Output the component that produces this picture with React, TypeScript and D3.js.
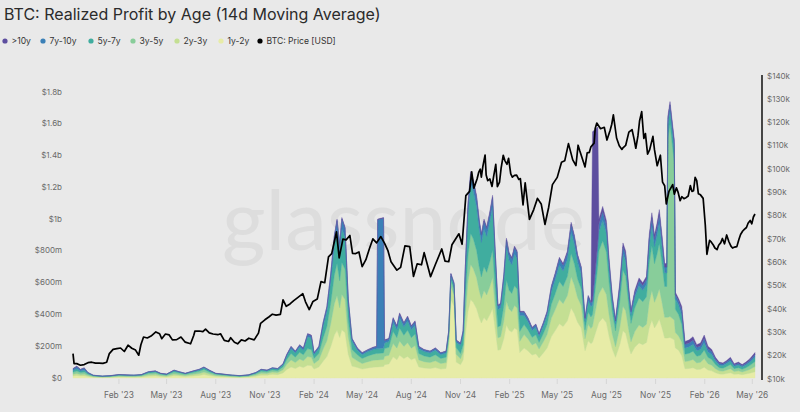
import React from 'react';
import * as d3 from 'd3';

// ---------- DATA ----------
const profitDates = [
  '2022-11-07','2022-11-14','2022-11-21','2022-11-28','2022-12-05','2022-12-15','2023-01-01','2023-01-15','2023-02-01','2023-02-15',
  '2023-03-01','2023-03-15','2023-03-28','2023-04-10','2023-04-20','2023-05-01','2023-05-15','2023-05-25','2023-06-05','2023-06-20',
  '2023-07-01','2023-07-10','2023-07-20','2023-08-01','2023-08-15','2023-09-01','2023-09-15','2023-10-01','2023-10-15','2023-10-25',
  '2023-11-05','2023-11-15','2023-11-25','2023-12-05','2023-12-12','2023-12-20','2023-12-28','2024-01-05','2024-01-12','2024-01-20',
  '2024-01-27','2024-02-01','2024-02-10','2024-02-18','2024-02-25','2024-03-03','2024-03-10','2024-03-15','2024-03-20','2024-03-24',
  '2024-03-30','2024-04-05','2024-04-12','2024-04-22','2024-05-01','2024-05-12','2024-05-22','2024-05-28','2024-05-30','2024-06-10',
  '2024-06-12','2024-06-20','2024-06-28','2024-07-05','2024-07-10','2024-07-18','2024-07-25','2024-08-01','2024-08-08','2024-08-15',
  '2024-08-25','2024-09-05','2024-09-15','2024-09-25','2024-10-05','2024-10-10','2024-10-14','2024-10-20','2024-10-24','2024-11-01',
  '2024-11-06','2024-11-10','2024-11-15','2024-11-20','2024-11-25','2024-12-01','2024-12-06','2024-12-10','2024-12-15','2024-12-20',
  '2024-12-26','2024-12-31','2025-01-05','2025-01-10','2025-01-15','2025-01-21','2025-01-26','2025-01-31','2025-02-05','2025-02-10',
  '2025-02-15','2025-02-20','2025-02-28','2025-03-07','2025-03-15','2025-03-22','2025-03-28','2025-04-05','2025-04-12','2025-04-20',
  '2025-04-27','2025-05-05','2025-05-12','2025-05-20','2025-05-27','2025-06-02','2025-06-08','2025-06-15','2025-06-22','2025-06-28',
  '2025-07-03','2025-07-06','2025-07-16','2025-07-18','2025-07-25','2025-08-01','2025-08-06','2025-08-12','2025-08-18','2025-08-26',
  '2025-09-01','2025-09-06','2025-09-12','2025-09-16','2025-09-23','2025-10-01','2025-10-08','2025-10-15','2025-10-20','2025-10-25',
  '2025-10-30','2025-11-04','2025-11-08','2025-11-13','2025-11-18','2025-11-22','2025-11-24','2025-11-28','2025-12-06','2025-12-08',
  '2025-12-14','2025-12-20','2025-12-26','2026-01-03','2026-01-10','2026-01-17','2026-01-24','2026-01-31','2026-02-07','2026-02-14',
  '2026-02-21','2026-02-28','2026-03-07','2026-03-14','2026-03-21','2026-03-28','2026-04-05','2026-04-12','2026-04-19','2026-04-26',
  '2026-05-06',
];

// realized profit, $ millions (14d MA)
const age1y2y = [
  13,16,12,13,9,5,3,4,6,6, 5,6,11,13,9,7,14,12,9,13, 16,22,15,9,8,5,4,6,11,18,
  18,23,21,32,53,70,60,74,66,80, 78,56,70,105,135,195,270,300,255,303, 285,150,75,66,56,63,68,70,70,72,
  84,88,133,115,143,122,136,115,126,70, 63,60,66,56,60,180,495,450,100,84, 114,266,418,494,475,437,380,346,380,361,
  399,437,304,175,179,247,334,300,289,315, 304,160,189,171,144,153,126,158,189,261, 297,342,324,360,441,405,351,315,171,234,
  216,225,330,350,378,347,263,182,130,210, 298,280,196,151,193,221,210,224,315,364, 315,343,371,315,252,252,252,255,240,189,
  175,140,58,60,65,53,55,68,50,45, 33,25,24,28,33,23,25,21,25,30, 40,
];
const age2y3y = [
  11,13,10,11,7,4,3,3,5,4, 4,5,9,10,7,6,11,9,7,10, 12,15,11,7,5,4,3,4,8,12,
  11,14,13,20,33,44,37,46,42,55, 52,35,44,77,99,143,198,220,187,222, 209,110,55,42,35,40,43,44,44,45,
  53,55,84,73,90,77,86,73,79,44, 40,37,42,35,37,45,80,72,50,37, 51,119,187,221,213,196,170,155,170,162,
  178,196,136,78,80,111,150,134,129,141, 136,71,84,76,64,68,56,70,84,116, 132,152,144,160,196,180,156,140,76,104,
  96,100,176,180,194,178,135,94,67,108, 153,144,101,77,99,113,108,115,162,187, 162,176,191,162,130,130,130,132,125,97,
  90,85,46,48,52,42,44,54,40,36, 26,20,19,22,26,18,20,17,20,24, 32,
];
const age3y5y = [
  12,15,12,13,8,4,3,4,6,5, 5,6,10,11,8,6,13,10,8,11, 14,17,12,8,6,5,4,5,8,12,
  10,13,12,18,30,40,34,42,38,50, 48,32,40,70,90,130,180,200,170,202, 190,100,50,38,32,36,39,40,40,41,
  48,50,76,66,82,70,78,66,72,40, 36,34,38,32,34,36,40,36,42,33, 45,105,165,195,188,172,150,136,150,142,
  158,172,120,69,70,97,132,119,114,125, 120,63,63,57,48,51,42,52,63,87, 99,114,108,120,147,135,117,105,57,78,
  72,75,200,270,292,267,202,140,100,162, 229,216,151,116,148,170,162,173,243,281, 243,265,286,243,194,194,1124,1210,992,146,
  135,110,46,48,52,42,44,54,40,36, 26,20,19,22,26,18,20,17,20,24, 32,
];
const age5y7y = [
  11,14,10,12,6,3,2,2,3,3, 3,3,6,7,4,4,8,6,4,7, 8,10,8,4,4,3,3,3,5,9,
  7,10,9,13,23,30,26,32,29,75, 72,25,30,74,95,137,190,211,179,213, 201,106,53,29,24,27,29,30,30,31,
  36,37,57,50,62,53,59,50,54,30, 27,26,29,24,26,24,26,24,32,52, 71,166,261,309,297,274,238,216,238,226,
  249,274,190,109,111,154,209,188,181,198, 190,100,57,52,43,46,38,47,57,79, 89,103,98,108,133,122,106,95,52,70,
  65,60,110,120,130,119,90,62,44,72, 102,96,67,52,66,76,72,77,108,125, 108,118,127,108,86,86,86,86,82,65,
  60,60,39,41,44,36,37,46,34,31, 22,17,16,19,22,15,17,15,17,20, 27,
];
const age7y10y = [
  10,13,9,13,4,1,1,1,1,1, 1,1,3,3,1,1,3,2,1,3, 4,4,3,1,1,1,1,1,2,3,
  3,4,4,5,8,12,10,12,11,15, 15,9,12,21,27,39,54,60,51,61, 57,30,15,11,10,11,12,12,812,817,
  14,15,23,20,25,21,23,20,22,12, 11,10,11,10,10,11,13,12,12,11, 15,35,55,65,62,57,50,46,50,48,
  53,57,40,23,24,33,44,40,38,41, 40,21,21,19,16,17,14,18,21,29, 33,38,36,40,49,45,39,35,19,26,
  24,25,44,50,54,50,38,26,18,30, 43,40,28,21,28,31,30,32,45,52, 45,49,53,45,36,36,36,36,40,27,
  25,32,23,24,26,21,22,27,20,18, 13,10,10,11,13,9,10,9,10,12, 16,
];
const age10yPlus = [
  3,4,2,3,1,1,0,1,1,1, 0,1,1,1,1,1,1,1,1,1, 1,2,1,1,1,0,0,1,1,1,
  1,1,1,2,3,4,3,4,4,5, 5,3,4,3,4,6,8,9,8,9, 8,4,2,4,3,3,4,4,4,4,
  5,5,7,6,8,7,8,6,7,4, 3,3,4,3,3,4,6,6,4,3, 4,9,14,16,15,14,12,11,12,11,
  13,14,10,6,6,8,11,9,9,10, 10,5,6,5,5,5,4,5,6,8, 10,11,10,12,14,13,11,10,5,8,
  7,1065,720,30,32,29,22,16,11,18, 25,24,17,13,16,19,18,19,27,31, 27,29,32,27,22,22,22,21,21,16,
  15,23,18,19,21,16,18,21,16,14, 10,8,7,8,10,7,8,6,8,10, 13,
];

const priceDates = [
  '2022-11-07','2022-11-09','2022-11-14','2022-11-21','2022-11-28','2022-12-05','2022-12-12','2022-12-19','2022-12-26','2023-01-02',
  '2023-01-09','2023-01-14','2023-01-21','2023-01-28','2023-02-04','2023-02-11','2023-02-18','2023-02-25','2023-03-04','2023-03-10',
  '2023-03-14','2023-03-19','2023-03-26','2023-04-02','2023-04-11','2023-04-18','2023-04-22','2023-04-29','2023-05-06','2023-05-12',
  '2023-05-20','2023-05-28','2023-06-05','2023-06-15','2023-06-21','2023-06-23','2023-07-01','2023-07-08','2023-07-13','2023-07-20',
  '2023-07-27','2023-08-05','2023-08-10','2023-08-17','2023-08-25','2023-08-29','2023-09-05','2023-09-11','2023-09-18','2023-09-25',
  '2023-10-02','2023-10-12','2023-10-20','2023-10-24','2023-11-01','2023-11-09','2023-11-15','2023-11-22','2023-11-30','2023-12-05',
  '2023-12-11','2023-12-18','2023-12-25','2024-01-02','2024-01-11','2024-01-16','2024-01-23','2024-01-30','2024-02-07','2024-02-14',
  '2024-02-21','2024-02-28','2024-03-05','2024-03-10','2024-03-14','2024-03-19','2024-03-26','2024-04-01','2024-04-08','2024-04-13',
  '2024-04-19','2024-04-25','2024-05-01','2024-05-08','2024-05-15','2024-05-21','2024-05-28','2024-06-05','2024-06-12','2024-06-18',
  '2024-06-24','2024-07-05','2024-07-12','2024-07-20','2024-07-29','2024-08-05','2024-08-12','2024-08-20','2024-08-25','2024-09-06',
  '2024-09-15','2024-09-27','2024-10-03','2024-10-10','2024-10-16','2024-10-29','2024-11-04','2024-11-11','2024-11-18','2024-11-22',
  '2024-11-26','2024-12-05','2024-12-10','2024-12-17','2024-12-22','2024-12-30','2025-01-06','2025-01-13','2025-01-20','2025-01-27',
  '2025-02-03','2025-02-10','2025-02-21','2025-02-26','2025-03-02','2025-03-10','2025-03-18','2025-03-25','2025-04-01','2025-04-08',
  '2025-04-15','2025-04-22','2025-05-01','2025-05-09','2025-05-15','2025-05-22','2025-05-30','2025-06-09','2025-06-17','2025-06-22',
  '2025-06-30','2025-07-09','2025-07-11','2025-07-14','2025-07-21','2025-07-28','2025-08-02','2025-08-08','2025-08-14','2025-08-20',
  '2025-08-30','2025-09-06','2025-09-18','2025-09-25','2025-10-06','2025-10-10','2025-10-17','2025-10-27','2025-11-04','2025-11-14',
  '2025-11-21','2025-11-26','2025-12-03','2025-12-10','2025-12-17','2025-12-24','2026-01-01','2026-01-08','2026-01-14','2026-01-20',
  '2026-01-29','2026-02-02','2026-02-05','2026-02-10','2026-02-17','2026-02-24','2026-03-03','2026-03-10','2026-03-14','2026-03-22',
  '2026-03-29','2026-04-06','2026-04-13','2026-04-20','2026-04-27','2026-05-06',
  // extra readings in the choppier stretches
  '2024-12-02','2024-12-08','2024-12-13','2024-12-19','2024-12-26','2025-01-02','2025-01-09','2025-01-16','2025-01-23','2025-01-30',
  '2025-02-06','2025-02-14','2025-02-18','2025-06-05','2025-06-12','2025-06-26','2025-07-03','2025-08-11','2025-08-25','2025-09-01',
  '2025-09-12','2025-09-22','2025-09-29','2025-10-02','2025-10-13','2025-10-21','2025-10-30','2025-11-10','2025-11-18','2025-12-06',
  '2025-12-13','2025-12-20','2025-12-28','2026-01-05','2026-01-11','2026-01-17','2026-01-24','2026-02-13','2026-02-20','2026-02-27',
  '2026-03-06','2026-03-18','2026-03-25','2026-04-02','2026-04-09','2026-04-16','2026-04-23','2026-04-30','2026-05-03',
];
// BTC price, $ thousands
const priceUsd = [
  20.9,16.6,16.6,15.9,16.2,17.0,17.2,16.8,16.8,16.7,
  17.2,20.9,22.7,23.0,23.3,21.8,24.5,23.2,22.4,20.2,
  24.7,28.0,27.6,28.4,30.2,29.4,27.3,29.3,28.9,26.8,
  26.9,28.0,25.8,25.1,28.8,30.5,30.6,30.3,31.4,29.8,
  29.3,29.0,29.4,26.6,26.1,27.7,25.8,25.1,26.8,26.3,
  27.5,26.8,29.7,33.9,35.4,36.7,37.8,37.4,37.7,44.0,
  41.2,42.2,43.6,45.0,46.6,43.1,39.8,43.3,44.3,51.8,
  51.3,62.4,63.8,69.0,73.1,62.0,70.0,69.7,71.6,63.9,
  63.8,64.5,58.2,61.2,66.2,70.1,68.4,71.1,68.2,65.2,
  60.3,56.7,57.9,67.1,66.8,54.0,59.4,59.0,64.2,53.9,
  59.1,65.8,60.6,60.3,67.6,72.3,67.8,88.7,90.5,98.9,
  91.9,98.6,96.6,106.1,95.1,92.6,102.1,94.5,106.0,102.1,
  98.0,97.4,96.0,84.7,94.2,78.5,82.7,87.5,85.1,76.3,
  83.7,93.4,96.5,103.0,103.6,111.0,104.0,110.3,104.5,101.0,
  107.2,111.2,117.5,119.8,117.4,118.0,112.5,116.7,123.3,113.4,
  108.5,110.2,117.0,109.0,124.7,113.2,106.5,114.1,101.5,94.5,
  85.1,90.5,93.4,92.0,86.5,87.4,88.5,90.5,96.5,89.5,
  87.5,76.0,63.5,69.5,67.5,65.5,68.5,68.0,71.8,67.0,
  66.6,70.0,73.5,75.0,78.0,80.8,
  // extra readings
  95.8,100.0,101.4,97.5,95.8,96.9,92.5,100.5,103.7,104.7,
  96.6,97.5,95.6,101.6,108.0,107.0,109.6,119.3,110.1,109.2,
  115.9,112.7,114.3,120.7,115.3,108.4,108.3,106.0,92.9,89.3,
  90.2,88.2,87.8,93.0,90.8,95.1,89.0,68.8,66.2,67.4,
  70.3,69.0,66.2,66.8,72.0,74.2,76.8,76.6,79.5,
];

const seriesKeys = ['1y-2y', '2y-3y', '3y-5y', '5y-7y', '7y-10y', '>10y'];
const seriesValues = [age1y2y, age2y3y, age3y5y, age5y7y, age7y10y, age10yPlus];
const legendLabels = ['>10y', '7y-10y', '5y-7y', '3y-5y', '2y-3y', '1y-2y', 'BTC: Price [USD]'];
const leftTicks = [0, 200, 400, 600, 800, 1000, 1200, 1400, 1600, 1800];
const rightTicks = [10, 20, 30, 40, 50, 60, 70, 80, 90, 100, 110, 120, 130, 140];

// ---------- STYLE ----------
const colors: Record<string, string> = {
  '>10y': '#5d4e9f',
  '7y-10y': '#3b80b7',
  '5y-7y': '#40ad9f',
  '3y-5y': '#88cd9a',
  '2y-3y': '#c4df93',
  '1y-2y': '#e7eca7',
  'BTC: Price [USD]': '#000000',
};
const BG = '#e9e9e9';
const FONT = 'Inter, "Noto Sans", sans-serif';

export default function App() {
  const parse = d3.utcParse('%Y-%m-%d');
  const pDates = profitDates.map((s) => parse(s) as Date);

  const pricePts = priceDates
    .map((s, i) => ({ date: parse(s) as Date, v: priceUsd[i] }))
    .sort((a, b) => +a.date - +b.date);

  const x = d3
    .scaleUtc()
    .domain([parse('2022-11-07') as Date, parse('2026-05-06') as Date])
    .range([73, 755]);
  const yL = d3.scaleLinear().domain([0, 1800]).range([378, 92]);
  const yR = d3.scaleLinear().domain([10, 140]).range([379, 76]);

  const rows = pDates.map((date, i) => {
    const r: any = { date };
    seriesKeys.forEach((k, j) => (r[k] = seriesValues[j][i]));
    return r;
  });
  const stacked = d3.stack<any>().keys(seriesKeys)(rows);
  const area = d3
    .area<any>()
    .x((d) => x(d.data.date))
    .y0((d) => yL(d[0]))
    .y1((d) => yL(d[1]));

  const priceLine = d3
    .line<{ date: Date; v: number }>()
    .x((d) => x(d.date))
    .y((d) => yR(d.v));

  const xTicks = d3.utcMonth.range(parse('2023-02-01') as Date, parse('2026-05-02') as Date, 3);
  const fmtX = d3.utcFormat("%b '%y");
  const fmtL = (v: number) => (v === 0 ? '$0' : v < 1000 ? `$${v}m` : `$${d3.format('~g')(v / 1000)}b`);

  const legendX = [5, 43, 91, 133, 177, 221, 260];

  return (
    <svg
      width={800}
      height={412}
      style={{ position: 'absolute', left: 0, top: 0, display: 'block', background: BG }}
      fontFamily={FONT}
    >
      <rect width={800} height={412} fill={BG} />
      <text x={4} y={20} fontSize={16} fill="#2b2b2b">
        BTC: Realized Profit by Age (14d Moving Average)
      </text>
      {legendLabels.map((l, i) => (
        <g key={l} transform={`translate(${legendX[i]},41)`}>
          <circle r={2.6} fill={colors[l]} />
          <text x={6.5} y={3} fontSize={8.6} fill="#333">
            {l}
          </text>
        </g>
      ))}

      {/* watermark */}
      <text x={222} y={250} fontSize={84} fill="#dddddd" fontFamily="Lato, sans-serif" textLength={363} lengthAdjust="spacingAndGlyphs">
        glassnode
      </text>

      {stacked.map((s) => (
        <path key={s.key} d={area(s) || ''} fill={colors[s.key]} stroke={colors[s.key]} strokeWidth={0.4} />
      ))}

      <path d={priceLine(pricePts) || ''} fill="none" stroke="#000" strokeWidth={1.7} strokeLinejoin="round" />

      {/* left axis labels */}
      {leftTicks.map((t) => (
        <text key={t} x={62} y={yL(t)} dy="0.32em" textAnchor="end" fontSize={8} fill="#6a6a6a">
          {fmtL(t)}
        </text>
      ))}

      {/* right axis */}
      <line x1={762} x2={762} y1={75} y2={380} stroke="#1c1c1c" strokeWidth={1.6} />
      {rightTicks.map((t) => (
        <text key={t} x={767} y={yR(t)} dy="0.32em" fontSize={8} fill="#6a6a6a">
          {`$${t}k`}
        </text>
      ))}

      {/* bottom axis */}
      {xTicks.map((t) => (
        <g key={+t}>
          <line x1={x(t)} x2={x(t)} y1={379} y2={384} stroke="#d2d2d2" strokeWidth={0.8} />
          <text x={x(t)} y={398} textAnchor="middle" fontSize={8.4} fill="#6a6a6a">
            {fmtX(t)}
          </text>
        </g>
      ))}
    </svg>
  );
}
